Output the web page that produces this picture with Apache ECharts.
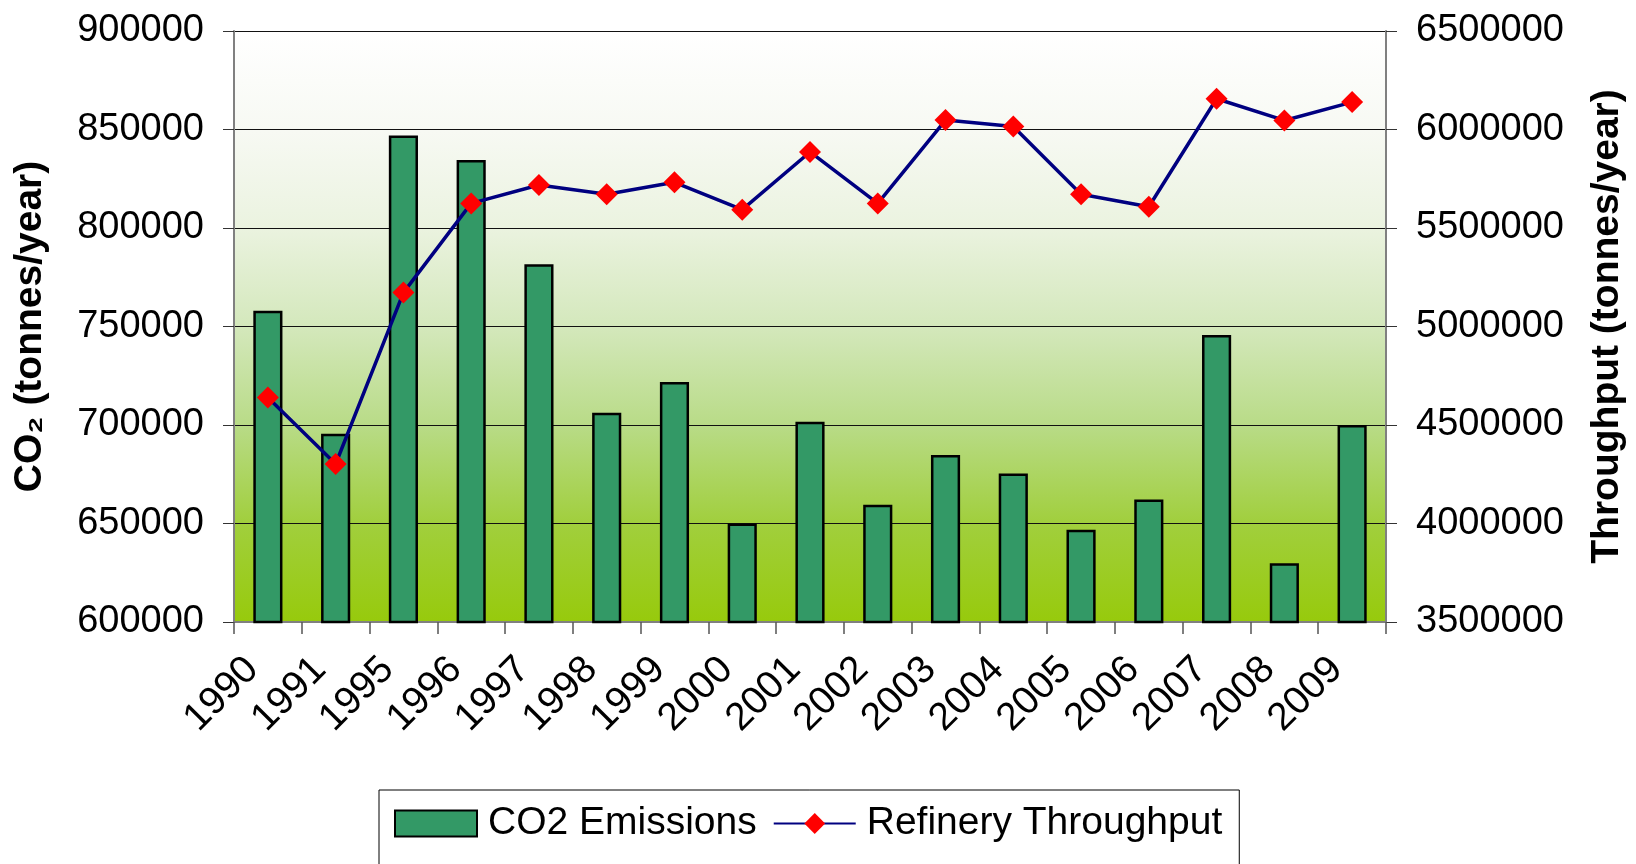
<!DOCTYPE html>
<html>
<head>
<meta charset="utf-8">
<script src="https://cdn.jsdelivr.net/npm/echarts@6/dist/echarts.min.js"></script>
<style>
html,body{margin:0;padding:0;background:#fff;}
#chart{width:1636px;height:864px;}
</style>
</head>
<body>
<div id="chart"></div>
<script>
const years = ['1990','1991','1995','1996','1997','1998','1999','2000','2001','2002','2003','2004','2005','2006','2007','2008','2009'];
const co2Emissions = [758000, 695500, 847000, 834500, 781600, 706200, 721800, 650000, 701700, 659500, 684800, 675400, 646800, 662200, 745700, 629800, 700000];
const refineryThroughput = [4640000, 4302000, 5172000, 5625000, 5718000, 5671000, 5732000, 5593000, 5886000, 5625000, 6048000, 6015000, 5671000, 5608000, 6156000, 6046000, 6139000];
const leftTicks = {min: 600000, max: 900000, interval: 50000};
const rightTicks = {min: 3500000, max: 6500000, interval: 500000};

const FONT = "'Liberation Sans', Arial, sans-serif";
const plain = v => String(v);
const chart = echarts.init(document.getElementById('chart'), null, {renderer: 'canvas'});
chart.setOption({
  animation: false,
  backgroundColor: '#ffffff',
  textStyle: {fontFamily: FONT},
  grid: {
    left: 234, right: 250, top: 31, bottom: 242,
    containLabel: false,
    outerBoundsMode: 'none',
    show: true,
    borderColor: '#888888', borderWidth: 0,
    backgroundColor: {
      type: 'linear', x: 0, y: 0, x2: 0, y2: 1,
      colorStops: [
        {offset: 0, color: '#ffffff'},
        {offset: 0.17, color: '#f7f9f3'},
        {offset: 0.33, color: '#ebf3e0'},
        {offset: 0.5, color: '#d4e8bc'},
        {offset: 0.67, color: '#b8db86'},
        {offset: 0.83, color: '#a1cf3e'},
        {offset: 1, color: '#97ca0c'}
      ]
    }
  },
  legend: {
    left: 379, top: 790,
    padding: [14, 17, 40, 15],
    borderColor: '#000', borderWidth: 1,
    itemWidth: 82, itemHeight: 26, itemGap: 16,
    textStyle: {fontFamily: FONT, fontSize: 39, color: '#000', padding: [0, 0, 0, 6]},
    data: [
      {name: 'CO2 Emissions', icon: 'rect'},
      {name: 'Refinery Throughput'}
    ]
  },
  xAxis: {
    type: 'category',
    data: years,
    boundaryGap: true,
    axisLine: {show: true, lineStyle: {color: '#808080', width: 2}},
    axisTick: {show: true, length: 12, lineStyle: {color: '#555', width: 1.5}},
    axisLabel: {rotate: 45, fontSize: 39, color: '#000', fontFamily: FONT, margin: 26, interval: 0, padding: [0, 22, 0, 0]},
    splitLine: {show: false}
  },
  yAxis: [
    {
      type: 'value', position: 'left',
      min: leftTicks.min, max: leftTicks.max, interval: leftTicks.interval,
      name: 'CO\u2082 (tonnes/year)',
      nameLocation: 'middle', nameRotate: 90, nameGap: 184,
      nameTextStyle: {fontSize: 39, fontWeight: 'bold', color: '#000', fontFamily: FONT},
      axisLine: {show: true, lineStyle: {color: '#808080', width: 2}},
      axisTick: {show: true, length: 11, lineStyle: {color: '#333', width: 1}},
      axisLabel: {fontSize: 38, color: '#000', fontFamily: FONT, margin: 30, formatter: plain},
      splitLine: {show: true, lineStyle: {color: '#111', width: 1}}
    },
    {
      type: 'value', position: 'right',
      min: rightTicks.min, max: rightTicks.max, interval: rightTicks.interval,
      name: 'Throughput (tonnes/year)',
      nameLocation: 'middle', nameRotate: 90, nameGap: 202,
      nameTextStyle: {fontSize: 39, fontWeight: 'bold', color: '#000', fontFamily: FONT},
      axisLine: {show: true, lineStyle: {color: '#808080', width: 2}},
      axisTick: {show: true, length: 11, lineStyle: {color: '#333', width: 1}},
      axisLabel: {fontSize: 38, color: '#000', fontFamily: FONT, margin: 30, formatter: plain},
      splitLine: {show: false}
    }
  ],
  series: [
    {
      name: 'CO2 Emissions',
      type: 'bar',
      yAxisIndex: 0,
      data: co2Emissions,
      barWidth: '43%',
      itemStyle: {color: '#339966', borderColor: '#000', borderWidth: 2.5}
    },
    {
      name: 'Refinery Throughput',
      type: 'line',
      yAxisIndex: 1,
      data: refineryThroughput,
      symbol: 'diamond',
      symbolSize: 22,
      lineStyle: {color: '#000080', width: 3.5},
      itemStyle: {color: '#ff0000', borderWidth: 0},
      z: 5
    }
  ]
});
</script>
</body>
</html>
